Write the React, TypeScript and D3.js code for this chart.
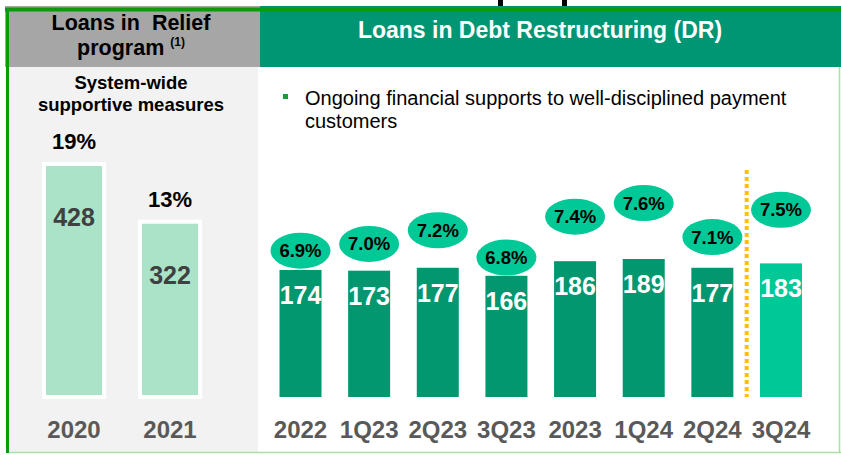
import React from "react";
import * as d3 from "d3";

const reliefYears = ["2020", "2021"];
const reliefValues = [428, 322];
const reliefPct = ["19%", "13%"];

const drPeriods = ["2022", "1Q23", "2Q23", "3Q23", "2023", "1Q24", "2Q24", "3Q24"];
const drValues = [174, 173, 177, 166, 186, 189, 177, 183];
const drPct = [6.9, 7.0, 7.2, 6.8, 7.4, 7.6, 7.1, 7.5];

const FONT = "'Liberation Sans', Arial, sans-serif";

export default function App() {
  const W = 841;
  const H = 455;

  // left panel scales
  const xL = d3.scalePoint<string>().domain(reliefYears).range([74, 170]);
  const yL = d3.scaleLinear().domain([0, 428]).range([397, 164]);
  const bwL = 60;

  // right panel scales
  const xR = d3.scalePoint<string>().domain(drPeriods).range([300.5, 781]);
  const yR = d3.scaleLinear().domain([0, 189]).range([397, 259]);
  const bwR = 42;
  const yP = d3.scaleLinear().domain([6.8, 7.6]).range([257.5, 203]);

  const lastIdx = drPeriods.length - 1;
  const sepX = ((xR(drPeriods[lastIdx - 1]) as number) + (xR(drPeriods[lastIdx]) as number)) / 2;

  return (
    <svg
      width={W}
      height={H}
      viewBox={`0 0 ${W} ${H}`}
      style={{ position: "absolute", left: 0, top: 0, display: "block", background: "#ffffff" }}
      fontFamily={FONT}
    >
      {/* cut-off title marks */}
      <rect x={498} y={0} width={5} height={6} fill="#000" />
      <rect x={562} y={0} width={5} height={6} fill="#000" />

      {/* left panel background */}
      <rect x={9} y={67} width={249} height={386} fill="#f2f2f2" />
      {/* left header */}
      <rect x={5} y={6} width={255} height={61} fill="#a6a6a6" />
      {/* right header */}
      <rect x={260} y={6} width={581} height={61} fill="#009673" />
      {/* top green line */}
      <rect x={5} y={7.5} width={836} height={4} fill="#0a9a0a" />
      {/* left green border */}
      <rect x={6} y={10} width={3} height={443} fill="#0a9a0a" />
      {/* right & bottom light green borders */}
      <line x1={839.5} y1={67} x2={839.5} y2={453} stroke="#a9dfa9" strokeWidth={1.5} />
      <line x1={9} y1={452.5} x2={841} y2={452.5} stroke="#a9dfa9" strokeWidth={1.5} />

      {/* left header text */}
      <text x={131} y={30} textAnchor="middle" fontSize={21.5} fontWeight="bold" fill="#000" style={{ whiteSpace: "pre" }}>
        {"Loans in  Relief"}
      </text>
      <text x={131} y={55} textAnchor="middle" fontSize={21.5} fontWeight="bold" fill="#000">
        <tspan>program </tspan>
        <tspan fontSize={12} dy={-9}>(1)</tspan>
      </text>

      {/* right header text */}
      <text x={540} y={38} textAnchor="middle" fontSize={23} fontWeight="bold" fill="#ffffff">
        Loans in Debt Restructuring (DR)
      </text>

      {/* left sub-title */}
      <text x={131} y={89} textAnchor="middle" fontSize={18.5} fontWeight="bold" fill="#000">
        System-wide
      </text>
      <text x={131} y={111} textAnchor="middle" fontSize={18.5} fontWeight="bold" fill="#000">
        supportive measures
      </text>

      {/* left bars */}
      {reliefYears.map((yr, i) => {
        const cx = xL(yr) as number;
        const top = yL(reliefValues[i]);
        const base = yL(0);
        return (
          <g key={yr}>
            <rect x={cx - bwL / 2} y={top} width={bwL} height={base - top} fill="#abe3c9" stroke="#ffffff" strokeWidth={4} />
            <text x={cx} y={top - 15} textAnchor="middle" fontSize={22} fontWeight="bold" fill="#000">
              {reliefPct[i]}
            </text>
            <text x={cx} y={top + 62} textAnchor="middle" fontSize={25} fontWeight="bold" fill="#404040">
              {reliefValues[i]}
            </text>
            <text x={cx} y={438} textAnchor="middle" fontSize={24} fontWeight="bold" fill="#595959">
              {yr}
            </text>
          </g>
        );
      })}

      {/* bullet */}
      <rect x={283} y={94} width={5} height={5} fill="#1a9a3a" />
      <text x={305} y={105} fontSize={20} fill="#000">
        Ongoing financial supports to well-disciplined payment
      </text>
      <text x={305} y={128} fontSize={20} fill="#000">
        customers
      </text>

      {/* separator */}
      <line x1={sepX} y1={170} x2={sepX} y2={397} stroke="#ffc000" strokeWidth={4} strokeDasharray="4 3" />

      {/* right bars */}
      {drPeriods.map((p, i) => {
        const cx = xR(p) as number;
        const top = yR(drValues[i]);
        const base = yR(0);
        const isLast = i === lastIdx;
        const ey = yP(drPct[i]);
        return (
          <g key={p}>
            <rect x={cx - bwR / 2} y={top} width={bwR} height={base - top} fill={isLast ? "#00c896" : "#03976f"} />
            <text x={cx} y={top + 34} textAnchor="middle" fontSize={25} fontWeight="bold" fill="#ffffff">
              {drValues[i]}
            </text>
            <ellipse cx={cx} cy={ey} rx={30} ry={18} fill="#00c896" />
            <text x={cx} y={ey + 6.5} textAnchor="middle" fontSize={18.5} fontWeight="bold" fill="#000">
              {drPct[i].toFixed(1) + "%"}
            </text>
            <text x={cx} y={438} textAnchor="middle" fontSize={24} fontWeight="bold" fill="#595959">
              {p}
            </text>
          </g>
        );
      })}
    </svg>
  );
}
